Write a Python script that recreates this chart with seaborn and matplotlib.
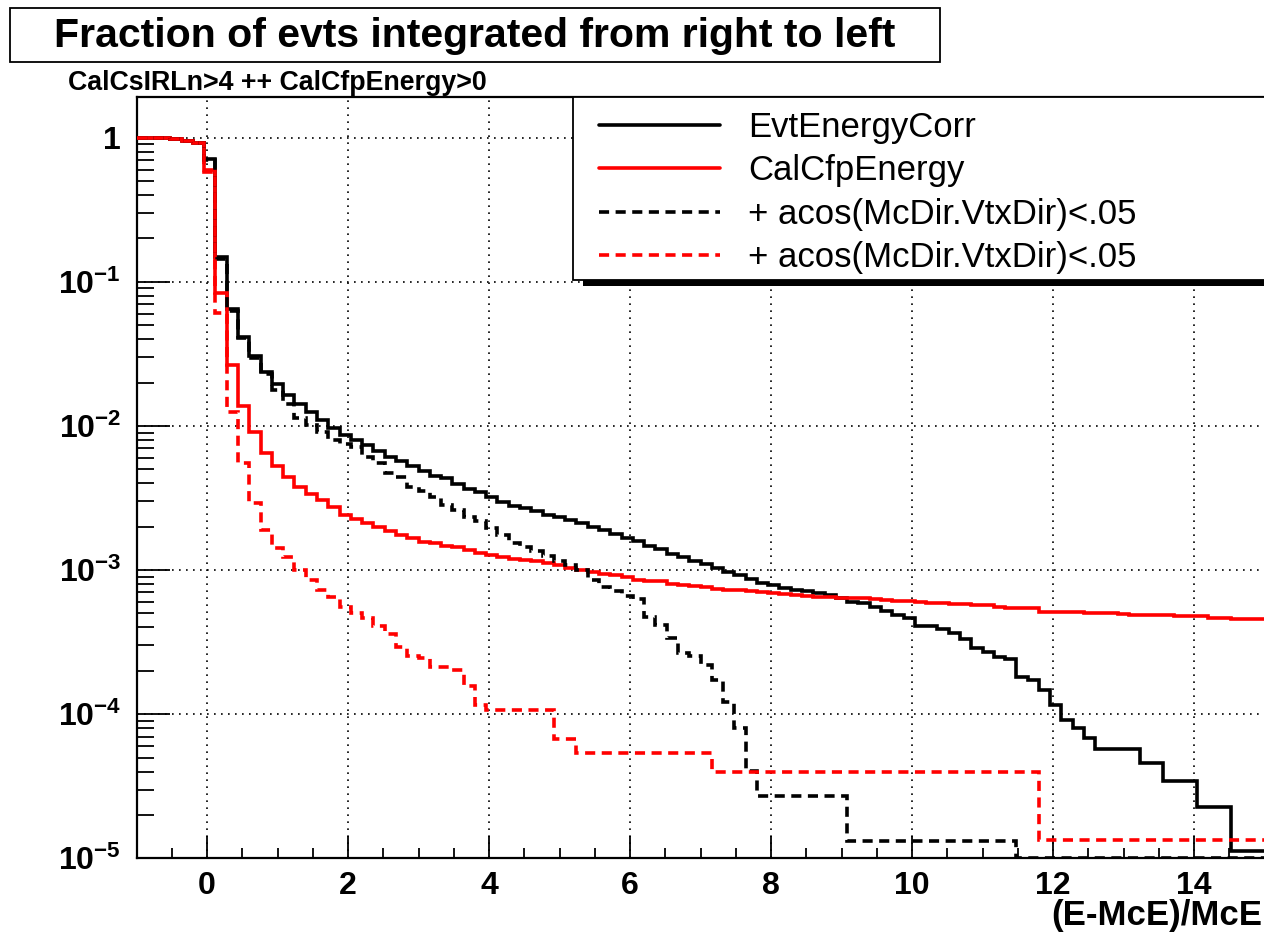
import numpy as np
import matplotlib
matplotlib.use("Agg")
import matplotlib.pyplot as plt
import seaborn as sns
from matplotlib.patches import Rectangle
from matplotlib.ticker import FuncFormatter, LogLocator, MultipleLocator, NullFormatter

# ---------------- data (100 bins from -1 to 15) ----------------
X_MIN, X_MAX, N_BINS = -1.0, 15.0, 100

evt_energy_corr = [
    1.0, 0.995, 0.99, 0.98, 0.955, 0.92, 0.708, 0.148, 0.0646, 0.0415,
    0.0305, 0.0237, 0.0195, 0.0164, 0.0142, 0.0125, 0.0110, 0.00968, 0.00864, 0.00802,
    0.00741, 0.00674, 0.00605, 0.00567, 0.00528, 0.00486, 0.00450, 0.00434, 0.00397, 0.00366,
    0.00347, 0.00323, 0.00297, 0.00277, 0.00268, 0.00255, 0.00242, 0.00234, 0.00223, 0.00211,
    0.00199, 0.00190, 0.00179, 0.00167, 0.00159, 0.00146, 0.00141, 0.00130, 0.00123, 0.00116,
    1.11e-3, 1.03e-3, 9.73e-4, 9.23e-4, 8.62e-4, 8.17e-4, 7.87e-4, 7.46e-4, 7.26e-4, 7.15e-4,
    6.96e-4, 6.70e-4, 6.36e-4, 6.03e-4, 5.90e-4, 5.51e-4, 5.19e-4, 4.91e-4, 4.62e-4, 4.09e-4,
    4.09e-4, 3.88e-4, 3.64e-4, 3.31e-4, 2.86e-4, 2.71e-4, 2.48e-4, 2.40e-4, 1.82e-4, 1.72e-4,
    1.47e-4, 1.16e-4, 9.1e-5, 7.96e-5, 6.79e-5, 5.70e-5, 5.70e-5, 5.70e-5, 5.70e-5, 4.60e-5,
    4.60e-5, 3.45e-5, 3.45e-5, 3.45e-5, 2.28e-5, 2.28e-5, 2.28e-5, 1.13e-5, 1.13e-5, 1.13e-5,
]

cal_cfp_energy = [
    1.0, 0.995, 0.99, 0.98, 0.955, 0.92, 0.596, 0.0838, 0.0265, 0.01374,
    0.00912, 0.00652, 0.00527, 0.00444, 0.00379, 0.00337, 0.00306, 0.00275, 0.00241, 0.00225,
    0.00213, 0.00200, 0.00187, 0.00175, 0.00166, 0.00157, 0.00153, 0.00147, 0.00145, 0.00138,
    0.00132, 0.00127, 0.00124, 0.00120, 0.00118, 0.00115, 0.00112, 0.00108, 0.00104, 0.00100,
    9.71e-4, 9.46e-4, 9.21e-4, 8.93e-4, 8.54e-4, 8.45e-4, 8.43e-4, 8.05e-4, 7.88e-4, 7.80e-4,
    7.59e-4, 7.39e-4, 7.29e-4, 7.22e-4, 7.12e-4, 7.08e-4, 6.97e-4, 6.80e-4, 6.73e-4, 6.66e-4,
    6.55e-4, 6.50e-4, 6.43e-4, 6.37e-4, 6.35e-4, 6.30e-4, 6.15e-4, 6.12e-4, 6.08e-4, 6.00e-4,
    5.95e-4, 5.87e-4, 5.85e-4, 5.78e-4, 5.76e-4, 5.70e-4, 5.50e-4, 5.48e-4, 5.48e-4, 5.46e-4,
    5.15e-4, 5.14e-4, 5.12e-4, 5.12e-4, 5.02e-4, 5.00e-4, 5.00e-4, 4.98e-4, 4.90e-4, 4.88e-4,
    4.88e-4, 4.86e-4, 4.82e-4, 4.81e-4, 4.80e-4, 4.63e-4, 4.62e-4, 4.57e-4, 4.57e-4, 4.56e-4,
]

evt_energy_corr_cut = [
    1.0, 0.995, 0.99, 0.98, 0.955, 0.92, 0.70, 0.145, 0.063, 0.041,
    0.0298, 0.0230, 0.0178, 0.0141, 0.0113, 0.0101, 0.0091, 0.0080, 0.0075, 0.0072,
    0.0061, 0.0055, 0.0047, 0.0044, 0.0038, 0.00355, 0.0032, 0.00283, 0.00259, 0.00235,
    0.00218, 0.00196, 0.00175, 0.00153, 0.00145, 0.00135, 0.00125, 0.00116, 0.00108, 0.00100,
    8.6e-4, 7.6e-4, 7.2e-4, 6.6e-4, 6.3e-4, 4.7e-4, 4.15e-4, 3.36e-4, 2.67e-4, 2.54e-4,
    2.19e-4, 1.72e-4, 1.22e-4, 7.97e-5, 4.05e-5, 2.70e-5, 2.70e-5, 2.70e-5, 2.70e-5, 2.70e-5,
    2.70e-5, 2.70e-5, 2.70e-5, 1.32e-5, 1.32e-5, 1.32e-5, 1.32e-5, 1.32e-5, 1.32e-5, 1.32e-5,
    1.32e-5, 1.32e-5, 1.32e-5, 1.32e-5, 1.32e-5, 1.32e-5, 1.32e-5, 1.32e-5, 0.0, 0.0,
    0.0, 0.0, 0.0, 0.0, 0.0, 0.0, 0.0, 0.0, 0.0, 0.0,
    0.0, 0.0, 0.0, 0.0, 0.0, 0.0, 0.0, 0.0, 0.0, 0.0,
]

cal_cfp_energy_cut = [
    1.0, 0.995, 0.99, 0.98, 0.955, 0.92, 0.58, 0.0604, 0.0124, 0.0055,
    0.00293, 0.00190, 0.00142, 0.00124, 0.00100, 8.53e-4, 7.3e-4, 6.53e-4, 5.56e-4, 5.00e-4,
    4.65e-4, 4.12e-4, 3.60e-4, 2.91e-4, 2.53e-4, 2.44e-4, 2.13e-4, 2.13e-4, 2.02e-4, 1.57e-4,
    1.16e-4, 1.07e-4, 1.07e-4, 1.07e-4, 1.07e-4, 1.07e-4, 1.07e-4, 6.7e-5, 6.7e-5, 5.36e-5,
    5.36e-5, 5.36e-5, 5.36e-5, 5.36e-5, 5.36e-5, 5.36e-5, 5.36e-5, 5.36e-5, 5.36e-5, 5.36e-5,
    5.36e-5, 4.0e-5, 4.0e-5, 4.0e-5, 4.0e-5, 4.0e-5, 4.0e-5, 4.0e-5, 4.0e-5, 4.0e-5,
    4.0e-5, 4.0e-5, 4.0e-5, 4.0e-5, 4.0e-5, 4.0e-5, 4.0e-5, 4.0e-5, 4.0e-5, 4.0e-5,
    4.0e-5, 4.0e-5, 4.0e-5, 4.0e-5, 4.0e-5, 4.0e-5, 4.0e-5, 4.0e-5, 4.0e-5, 4.0e-5,
    1.33e-5, 1.33e-5, 1.33e-5, 1.33e-5, 1.33e-5, 1.33e-5, 1.33e-5, 1.33e-5, 1.33e-5, 1.33e-5,
    1.33e-5, 1.33e-5, 1.33e-5, 1.33e-5, 1.33e-5, 1.33e-5, 1.33e-5, 1.33e-5, 1.33e-5, 1.33e-5,
]

series_labels = ["EvtEnergyCorr", "CalCfpEnergy",
                 "+ acos(McDir.VtxDir)<.05", "+ acos(McDir.VtxDir)<.05"]
series_colors = ["black", "red", "black", "red"]
series_dashed = [False, False, True, True]

title_text = "Fraction of evts integrated from right to left"
subtitle_text = "CalCsIRLn>4 ++ CalCfpEnergy>0"
xlabel_text = "(E-McE)/McE"

Y_MIN, Y_MAX = 1e-5, 1.907

# ---------------- style ----------------
sns.set_style("ticks")
plt.rcParams["font.family"] = ["Liberation Sans", "DejaVu Sans"]
plt.rcParams["font.weight"] = "bold"
plt.rcParams["mathtext.fontset"] = "custom"
plt.rcParams["mathtext.rm"] = "Liberation Sans:bold"
plt.rcParams["mathtext.bf"] = "Liberation Sans:bold"
plt.rcParams["axes.unicode_minus"] = False
for key in ["text.color", "axes.labelcolor", "xtick.color", "ytick.color", "axes.edgecolor"]:
    plt.rcParams[key] = "black"

W, H = 1264, 939
fig = plt.figure(figsize=(W / 100, H / 100), dpi=100)
fig.patch.set_facecolor("white")


def fx(px):
    return px / W


def fy(py):
    return 1 - py / H


ax = fig.add_axes([fx(136.5), fy(858.3), fx(1264.5) - fx(136.5), fy(97.3) - fy(858.3)])
ax.set_facecolor("white")

edges = np.linspace(X_MIN, X_MAX, N_BINS + 1)
all_series = [evt_energy_corr, cal_cfp_energy, evt_energy_corr_cut, cal_cfp_energy_cut]
for i in range(4):
    vals = np.asarray(all_series[i], dtype=float)
    yv = np.clip(np.append(vals, vals[-1]), Y_MIN, None)
    sns.lineplot(x=edges, y=yv, color=series_colors[i], linewidth=2.6,
                 drawstyle="steps-post", estimator=None, sort=False,
                 label=series_labels[i], ax=ax, zorder=3)
    line = ax.lines[-1]
    line.set_solid_joinstyle("miter")
    if series_dashed[i]:
        line.set_dashes((2.8, 1.8))
        line.set_dash_joinstyle("miter")

if ax.get_legend() is not None:
    ax.get_legend().remove()

ax.set_xlim(X_MIN, X_MAX)
ax.set_yscale("log")
ax.set_ylim(Y_MIN, Y_MAX)

ax.xaxis.set_major_locator(MultipleLocator(2))
ax.xaxis.set_minor_locator(MultipleLocator(0.5))
ax.yaxis.set_major_locator(LogLocator(base=10, numticks=20))
ax.yaxis.set_minor_locator(LogLocator(base=10, subs=np.arange(2, 10), numticks=100))
ax.yaxis.set_minor_formatter(NullFormatter())


def yfmt(v, pos):
    e = int(round(np.log10(v)))
    if e == 0:
        return "1"
    return r"$\mathbf{10^{%d}}$" % e


ax.yaxis.set_major_formatter(FuncFormatter(yfmt))
ax.xaxis.set_major_formatter(FuncFormatter(lambda v, p: "%d" % round(v)))

ax.tick_params(axis="x", which="major", direction="in", length=16, width=1.3,
               labelsize=23, pad=9, colors="black")
ax.tick_params(axis="x", which="minor", direction="in", length=7.5, width=1.3)
ax.tick_params(axis="y", which="major", direction="in", length=24, width=1.3,
               labelsize=23, pad=11, colors="black")
ax.tick_params(axis="y", which="minor", direction="in", length=12, width=1.3)

ax.grid(True, which="major", color="black", linestyle=(0, (1.0, 3.2)), linewidth=1.2)
ax.set_axisbelow(True)

for side in ["left", "bottom", "top"]:
    ax.spines[side].set_linewidth(1.6)
    ax.spines[side].set_color("black")
ax.spines["right"].set_visible(False)

ax.set_xlabel(xlabel_text, fontsize=25, fontweight="bold", ha="right", va="center")
ax.xaxis.set_label_coords(1.0 - 2 / 1128, (858.3 - 916) / 761)
ax.set_ylabel("")

# ---------------- legend box (ROOT style with shadow) ----------------
shadow = Rectangle((fx(583), fy(286)), fx(1300) - fx(583), fy(280) - fy(286),
                   transform=fig.transFigure, facecolor="black", edgecolor="none", zorder=4)
fig.add_artist(shadow)
frame = Rectangle((fx(573), fy(280)), fx(1300) - fx(573), fy(97.3) - fy(280),
                  transform=fig.transFigure, facecolor="white", edgecolor="black",
                  linewidth=1.3, zorder=5)
fig.add_artist(frame)

handles, labels = ax.get_legend_handles_labels()
leg = fig.legend(handles, labels, loc="upper left", bbox_to_anchor=(fx(599), fy(111)),
                 bbox_transform=fig.transFigure, frameon=False, borderpad=0,
                 borderaxespad=0, handlelength=3.49, handletextpad=0.8,
                 labelspacing=0.3,
                 prop={"family": "Liberation Sans", "weight": "normal", "size": 25})
leg.set_zorder(6)

# ---------------- title box & subtitle ----------------
tbox = Rectangle((fx(10), fy(62)), fx(940) - fx(10), fy(8) - fy(62),
                 transform=fig.transFigure, facecolor="white", edgecolor="black",
                 linewidth=1.3, zorder=5)
fig.add_artist(tbox)
fig.text(fx(475), fy(36), title_text, ha="center", va="center", fontsize=29.5,
         fontweight="bold", zorder=6)
fig.text(fx(68), fy(83), subtitle_text, ha="left", va="center", fontsize=19.3,
         fontweight="bold", zorder=6)

fig.savefig("out.png", dpi=100, facecolor="white")
